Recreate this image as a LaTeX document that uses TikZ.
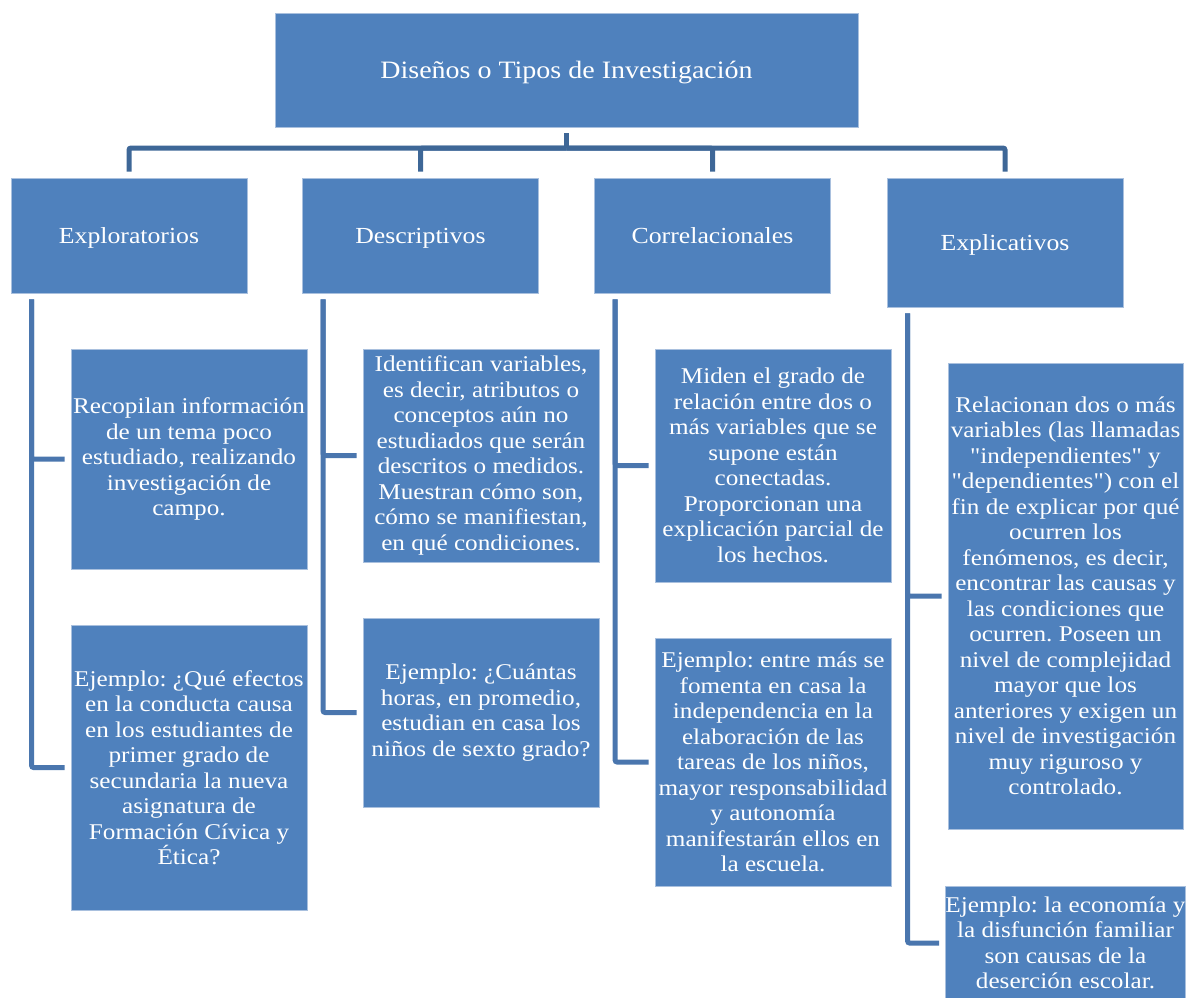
\documentclass[tikz,border=0pt]{standalone}
\usepackage{fontspec}
\setmainfont[FakeStretch=1.12]{Liberation Serif}
\newfontfamily\qfont[FakeStretch=1.12]{Liberation Serif}
\newcommand{\dq}{{\qfont"}}
\frenchspacing
\definecolor{boxblue}{HTML}{4F81BD}
\definecolor{boxedge}{HTML}{A9C0DE}
\definecolor{topconn}{HTML}{3E6797}
\definecolor{sideconn}{HTML}{4A76AE}
\begin{document}
\begin{tikzpicture}[x=1pt,y=-1pt,
  box/.style={fill=boxblue, draw=boxedge, line width=0.8pt, text=white, align=center, inner sep=0pt, font=\fontsize{22.5}{25.5}\selectfont},
  hbox/.style={box, minimum width=236, text height=19pt, text depth=3pt, font=\fontsize{23}{26}\selectfont},
  conn/.style={draw=topconn, line width=5pt, rounded corners=2pt},
  sconn/.style={draw=sideconn, line width=5pt, rounded corners=2pt, shorten >=6pt}]
\path[use as bounding box] (0,0) rectangle (1189,997);
% top
\node[box, minimum width=583, minimum height=114, text height=20pt, text depth=3pt, font=\fontsize{25}{28}\selectfont] (top) at (566.5,70) {Diseños o Tipos de Investigación};
% level 2
\node[hbox, minimum height=115] (exp) at (129,235.5) {Exploratorios};
\node[hbox, minimum height=115] (des) at (420.5,235.5) {Descriptivos};
\node[hbox, minimum height=115] (cor) at (712.5,235.5) {Correlacionales};
\node[hbox, minimum height=129] (expl) at (1005,242.5) {Explicativos};
% level 3
\node[box, minimum width=236, minimum height=220] (e1) at (189,459) {Recopilan información\\de un tema poco\\estudiado, realizando\\investigación de\\campo.};
\node[box, minimum width=236, minimum height=285] (e2) at (189,767.5) {Ejemplo: ¿Qué efectos\\en la conducta causa\\en los estudiantes de\\primer grado de\\secundaria la nueva\\asignatura de\\Formación Cívica y\\Ética?};
\node[box, minimum width=236, minimum height=213] (d1) at (481,455.5) {Identifican variables,\\es decir, atributos o\\conceptos aún no\\estudiados que serán\\descritos o medidos.\\Muestran cómo son,\\cómo se manifiestan,\\en qué condiciones.};
\node[box, minimum width=236, minimum height=189] (d2) at (481,712.5) {Ejemplo: ¿Cuántas\\horas, en promedio,\\estudian en casa los\\niños de sexto grado?};
\node[box, minimum width=236, minimum height=233] (c1) at (773,465.5) {Miden el grado de\\relación entre dos o\\más variables que se\\supone están\\conectadas.\\Proporcionan una\\explicación parcial de\\los hechos.};
\node[box, minimum width=236, minimum height=248] (c2) at (773,762) {Ejemplo: entre más se\\fomenta en casa la\\independencia en la\\elaboración de las\\tareas de los niños,\\mayor responsabilidad\\y autonomía\\manifestarán ellos en\\la escuela.};
\node[box, minimum width=235, minimum height=466] (x1) at (1065.5,596) {Relacionan dos o más\\variables (las llamadas\\\dq independientes\dq{} y\\\dq dependientes\dq) con el\\fin de explicar por qué\\ocurren los\\fenómenos, es decir,\\encontrar las causas y\\las condiciones que\\ocurren. Poseen un\\nivel de complejidad\\mayor que los\\anteriores y exigen un\\nivel de investigación\\muy riguroso y\\controlado.};
\node[box, minimum width=235, minimum height=114] (x2) at (1065.5,943) {Ejemplo: la economía y\\la disfunción familiar\\son causas de la\\deserción escolar.};
% top connectors
\coordinate (hub) at (566.5,148);
\draw[conn] ([yshift=-6pt]top.south) -- (hub);
\draw[conn] ([yshift=6pt]exp.north) |- (hub);
\draw[conn] ([yshift=6pt]des.north) |- (hub);
\draw[conn] ([yshift=6pt]cor.north) |- (hub);
\draw[conn] ([yshift=6pt]expl.north) |- (hub);
% side connectors
\draw[sconn] ([xshift=21pt,yshift=-6pt]exp.south west) |- (e1.west);
\draw[sconn] ([xshift=21pt,yshift=-6pt]exp.south west) |- (e2.west);
\draw[sconn] ([xshift=21pt,yshift=-6pt]des.south west) |- (d1.west);
\draw[sconn] ([xshift=21pt,yshift=-6pt]des.south west) |- (d2.west);
\draw[sconn] ([xshift=21pt,yshift=-6pt]cor.south west) |- (c1.west);
\draw[sconn] ([xshift=21pt,yshift=-6pt]cor.south west) |- (c2.west);
\draw[sconn] ([xshift=21pt,yshift=-6pt]expl.south west) |- (x1.west);
\draw[sconn] ([xshift=21pt,yshift=-6pt]expl.south west) |- (x2.west);
\end{tikzpicture}
\end{document}
